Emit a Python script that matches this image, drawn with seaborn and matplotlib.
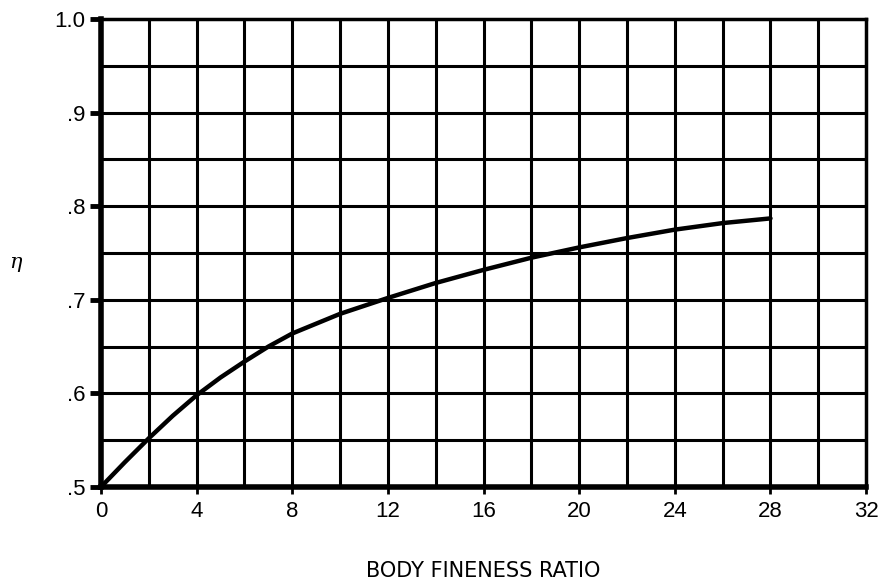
import numpy as np
import pandas as pd
import matplotlib.pyplot as plt
import seaborn as sns

# Curve
fineness = [0, 1, 2, 3, 4, 5, 6, 7, 8, 10, 12, 14, 16, 18, 20, 22, 24, 26, 28]
eta = [0.500, 0.5265, 0.552, 0.576, 0.598, 0.617, 0.634, 0.650, 0.664,
       0.685, 0.702, 0.718, 0.732, 0.745, 0.756, 0.766, 0.775, 0.782, 0.787]

x_ticks = [0, 4, 8, 12, 16, 20, 24, 28, 32]
y_ticks = [0.5, 0.6, 0.7, 0.8, 0.9, 1.0]
y_labels = [".5", ".6", ".7", ".8", ".9", "1.0"]

df = pd.DataFrame({"fineness": fineness, "eta": eta})

sns.set_style("white")
plt.rcParams['font.family'] = ['Liberation Sans', 'DejaVu Sans']
plt.rcParams['text.color'] = 'black'
plt.rcParams['axes.labelcolor'] = 'black'
plt.rcParams['xtick.color'] = 'black'
plt.rcParams['ytick.color'] = 'black'

fig = plt.figure(figsize=(8.82, 5.79), dpi=100)
ax = fig.add_axes([0.1145, 0.159, 0.8675, 0.808])

# grid every 2 units in x and every .05 in y
for gx in np.arange(2, 32, 2):
    ax.axvline(gx, color="black", lw=2.2, zorder=1)
for gy in np.arange(0.55, 1.0, 0.05):
    ax.axhline(gy, color="black", lw=2.2, zorder=1)

sns.lineplot(data=df, x="fineness", y="eta", color="black", lw=3.2, ax=ax, zorder=3)

ax.set_xlim(0, 32)
ax.set_ylim(0.5, 1.0)
ax.set_xticks(x_ticks)
ax.set_xticklabels([str(t) for t in x_ticks], fontsize=16)
ax.set_yticks(y_ticks)
ax.set_yticklabels(y_labels, fontsize=16)
ax.tick_params(axis="y", direction="out", length=8, width=3.5, pad=3, colors="black", left=True)
ax.tick_params(axis="x", direction="out", length=5, width=2, pad=5, colors="black", bottom=True)

for side in ["left", "bottom"]:
    ax.spines[side].set_linewidth(4)
for side in ["top", "right"]:
    ax.spines[side].set_linewidth(2.5)
for s in ax.spines.values():
    s.set_color("black")
    s.set_zorder(4)

ax.set_xlabel("BODY FINENESS RATIO", fontsize=15, family="DejaVu Sans", labelpad=28, color="black")
ax.set_ylabel("η", fontsize=15, rotation=0, family="DejaVu Serif", style="italic", color="black")
ax.yaxis.set_label_coords(-0.112, 0.46)

fig.savefig("out.png", dpi=100)
